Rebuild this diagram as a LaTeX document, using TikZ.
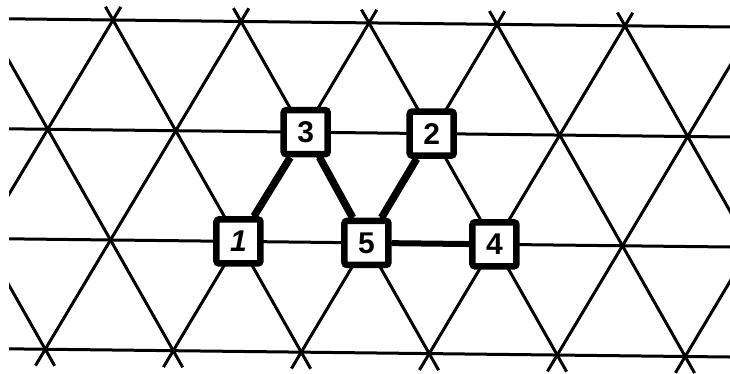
\documentclass[tikz,border=0pt]{standalone}
\usepackage{fontspec}
\setsansfont{Liberation Sans}
\begin{document}
\begin{tikzpicture}[x=1pt,y=-1pt,
  lat/.style={line width=3pt},
  bond/.style={line width=7.5pt},
  site/.style={draw, line width=6.5pt, fill=white, minimum size=44pt, inner sep=0pt,
    rounded corners=2.5pt, font=\sffamily\bfseries\fontsize{30}{30}\selectfont}]
\useasboundingbox (0,0) rectangle (730,374);
\begin{scope}
  \clip (9,0) rectangle (730,374);
  \begin{scope}[shift={(113,20)}, rotate=-0.65]
    \foreach \r in {0,1,2,3} \draw[lat] (-300,\r*110) -- (900,\r*110);
    \foreach \k in {-4,...,6} \draw[lat] (\k*128-0.12*64, -0.12*110) -- (\k*128+3.15*64, 3.15*110);
    \foreach \k in {-1,...,9} \draw[lat] (\k*128+0.12*64, -0.12*110) -- (\k*128-3.15*64, 3.15*110);
  \end{scope}
\end{scope}
\begin{scope}[shift={(113,20)}, rotate=-0.65]
  \node[site] (n3) at (194,110) {3};
  \node[site] (n2) at (320,110) {2};
  \node[site] (n1) at (128,220) {\itshape 1};
  \node[site] (n5) at (256,220) {5};
  \node[site] (n4) at (384,220) {4};
\end{scope}
\draw[bond] (n1) -- (n3);
\draw[bond] (n3) -- (n5);
\draw[bond] (n5) -- (n2);
\draw[line width=6pt] (n5) -- (n4);
\end{tikzpicture}
\end{document}
